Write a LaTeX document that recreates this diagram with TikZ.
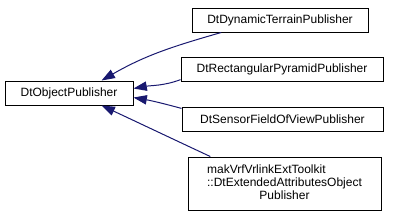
\documentclass[tikz,border=0pt]{standalone}
\usepackage{fontspec}
\setmainfont{Liberation Sans}
\usetikzlibrary{arrows.meta}
\definecolor{midnightblue}{HTML}{191970}

\begin{document}
\begin{tikzpicture}
  [x=0.75pt,y=-0.75pt,
   classbox/.style={rectangle,draw=black,line width=0.75pt,inner sep=0pt,
     minimum height=18pt,font=\fontsize{9}{9.75}\selectfont},
   inherit/.style={draw=midnightblue,line width=0.75pt,
     -{Triangle[length=10pt,width=7pt]}}]
  \useasboundingbox (0,0) rectangle (395,219);

  \node[classbox,minimum width=96pt] (opub) at (69,93) {DtObjectPublisher};
  \node[classbox,minimum width=132pt] (dterrain) at (280,20) {DtDynamicTerrainPublisher};
  \node[classbox,minimum width=151.5pt] (rpyramid) at (282,69) {DtRectangularPyramidPublisher};
  \node[classbox,minimum width=150.75pt] (sfov) at (282.5,119) {DtSensorFieldOfViewPublisher};
  \node[classbox,minimum width=144.75pt,minimum height=39.75pt] (extattr) at (284.5,183.5)
    {\begin{tabular}{@{}l@{}}makVrfVrlinkExtToolkit\\::DtExtendedAttributesObject\\
     \multicolumn{1}{@{}c@{}}{Publisher}\end{tabular}};

  \foreach \from/\to/\outa/\ina in {dterrain.192/opub.21/196/30, rpyramid.186/opub.4/200/10,
      sfov.174/opub.-4/165/-10, extattr.160/opub.-21/155/-25}
    \draw[inherit] (\from) to[out=\outa,in=\ina] (\to);

\end{tikzpicture}
\end{document}
